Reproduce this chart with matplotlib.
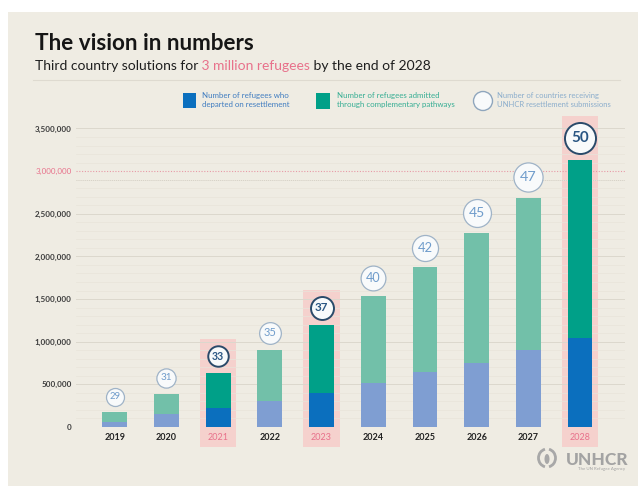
import matplotlib
matplotlib.use("Agg")
import matplotlib.pyplot as plt
from matplotlib.patches import Rectangle, Arc, Ellipse
from matplotlib.transforms import offset_copy

plt.rcParams['font.family'] = ['Lato', 'DejaVu Sans']

# cumulative figures, 2019 -> 2028
years = ["2019", "2020", "2021", "2022", "2023", "2024", "2025", "2026", "2027", "2028"]
total = [175000, 390000, 635000, 900000, 1190000, 1530000, 1875000, 2270000, 2685000, 3135000]
resettled = [60000, 150000, 220000, 300000, 400000, 510000, 640000, 750000, 905000, 1045000]
countries = [29, 31, 33, 35, 37, 40, 42, 45, 47, 50]
highlight = ["2021", "2023", "2028"]

complementary = [t - r for t, r in zip(total, resettled)]

BG = "#efece3"
PINK = "#e8718b"
BLUE_DARK, BLUE_LIGHT = "#0b6fbe", "#7f9ed2"
TEAL_DARK, TEAL_LIGHT = "#00a088", "#72c0a9"

W, H = 638, 486
fig = plt.figure(figsize=(W / 100, H / 100), dpi=100)
fig.patch.set_facecolor("white")


def fx(px):
    return px / W


def fy(py):
    return 1 - py / H


# cream panel
fig.add_artist(Rectangle((fx(8), 0), 1 - fx(8), fy(12), transform=fig.transFigure,
                         facecolor=BG, edgecolor="none", zorder=-10))

# title block
fig.text(fx(35), fy(50), "The vision in numbers", fontsize=16.2, fontweight="bold",
         color="#161616", va="baseline")
t1 = fig.text(fx(35), fy(69.5), "Third country solutions for", fontsize=10,
              color="#1e1e1e", va="baseline")
t2 = fig.text(0, 0, " 3 million refugees", fontsize=10, color=PINK, va="baseline")
t3 = fig.text(0, 0, " by the end of 2028", fontsize=10, color="#1e1e1e", va="baseline")
fig.canvas.draw()
r = fig.canvas.get_renderer()
x = t1.get_window_extent(r).x1
t2.set_position((x / W, fy(69.5)))
x = t2.get_window_extent(r).x1
t3.set_position((x / W, fy(69.5)))
fig.add_artist(plt.Line2D([fx(33), fx(620)], [fy(80), fy(80)], color="#dedad0", lw=0.8))

# legend
fig.add_artist(Rectangle((fx(183), fy(108)), 13 / W, 15 / H, transform=fig.transFigure,
                         facecolor=BLUE_DARK, edgecolor="none"))
fig.text(fx(202), fy(100), "Number of refugees who\ndeparted on resettlement", fontsize=5.7,
         color="#3f7cc0", va="center", linespacing=1.25)
fig.add_artist(Rectangle((fx(316), fy(109)), 14 / W, 16 / H, transform=fig.transFigure,
                         facecolor=TEAL_DARK, edgecolor="none"))
fig.text(fx(337), fy(100), "Number of refugees admitted\nthrough complementary pathways", fontsize=5.7,
         color="#35ad93", va="center", linespacing=1.25)
fig.add_artist(Ellipse((fx(483), fy(101)), 19 / W, 19 / H, transform=fig.transFigure,
                       facecolor="#f8fafb", edgecolor="#8fa6bd", lw=1))
fig.text(fx(497), fy(100), "Number of countries receiving\nUNHCR resettlement submissions", fontsize=5.5,
         color="#8badcc", va="center", linespacing=1.25)

# chart
ax = fig.add_axes([fx(76), fy(427), 549 / W, 302.8 / H])
ax.set_facecolor("none")
ymax = 3550000
ax.set_ylim(0, ymax)
ax.set_xlim(-0.75, 9.87)
for s in ax.spines.values():
    s.set_visible(False)

dpp = ymax / 302.8  # data units per pixel

for v in range(100000, 3500001, 100000):
    if v == 3000000:
        ax.axhline(v, color="#e89aa6", lw=0.8, ls=(0, (1, 1.5)), zorder=1)
    elif v % 500000 == 0:
        ax.axhline(v, color="#dcd8cd", lw=0.7, zorder=1)
    else:
        ax.axhline(v, color="#e8e4da", lw=0.5, zorder=1)
ax.axhline(2900000, color="#cfcbc0", lw=0.6, ls=(0, (1, 1.5)), zorder=1)
ax.axhline(0, color="#d9d5ca", lw=0.7, zorder=1)

xs = list(range(len(years)))
hl = [y in highlight for y in years]
ax.bar(xs, resettled, width=0.48, color=[BLUE_DARK if h else BLUE_LIGHT for h in hl], zorder=2)
ax.bar(xs, complementary, bottom=resettled, width=0.48,
       color=[TEAL_DARK if h else TEAL_LIGHT for h in hl], zorder=2)

for i, (tot, n, h) in enumerate(zip(total, countries, hl)):
    rad = 9 + (n - 29) * 0.31
    if h:
        top = tot + (6.5 + 2 * rad + 6.5) * dpp
        bottom = -20 * dpp
        ax.add_patch(Rectangle((i - 0.35, bottom), 0.7, top - bottom, facecolor="#f5d1cd",
                               edgecolor="none", zorder=0.5, clip_on=False))
    tr = offset_copy(ax.transData, fig=fig, x=0, y=(6.5 + rad) * 0.72, units="points")
    ax.scatter([i], [tot], s=(2 * rad * 0.72) ** 2, marker="o", transform=tr,
               facecolor="#f8fafb", edgecolor="#2a4a6a" if h else "#9fb3c7",
               linewidth=1.4 if h else 0.9, zorder=3, clip_on=False)
    ax.text(i, tot, str(n), transform=tr, ha="center", va="center",
            fontsize=6.8 + (n - 29) * 0.2, color="#2a5683" if h else "#6f9ccb",
            fontweight="bold" if h else "normal", zorder=4)

ax.set_yticks(range(0, 3500001, 500000))
ax.set_yticklabels([f"{v:,}" for v in range(0, 3500001, 500000)], fontsize=5.8,
                   fontweight="bold", color="#3a3a3a")
for lab in ax.get_yticklabels():
    if lab.get_text() == "3,000,000":
        lab.set_color(PINK)
        lab.set_fontweight("normal")
ax.tick_params(axis="y", length=0, pad=3)

ax.set_xticks(xs)
ax.set_xticklabels(years, fontsize=6.5, fontweight="bold", color="#222222")
for lab, h in zip(ax.get_xticklabels(), hl):
    if h:
        lab.set_color(PINK)
        lab.set_fontweight("normal")
ax.tick_params(axis="x", length=0, pad=4)

# UNHCR mark
fig.add_artist(Arc((fx(547), fy(458)), 17 / W, 18 / H, theta1=100, theta2=260,
                   transform=fig.transFigure, color="#a8a8a8", lw=2))
fig.add_artist(Arc((fx(547), fy(458)), 17 / W, 18 / H, theta1=-80, theta2=80,
                   transform=fig.transFigure, color="#a8a8a8", lw=2))
fig.add_artist(Ellipse((fx(547), fy(459)), 5 / W, 10 / H, transform=fig.transFigure,
                       facecolor="#a8a8a8", edgecolor="none"))
fig.text(fx(566), fy(464.5), "UNHCR", fontsize=12.5, fontweight="black", color="#a3a3a3",
         va="baseline")
fig.text(fx(578), fy(470), "The UN Refugee Agency", fontsize=3.2, color="#a3a3a3", va="baseline")

fig.savefig("out.png", dpi=100, facecolor=fig.get_facecolor())
